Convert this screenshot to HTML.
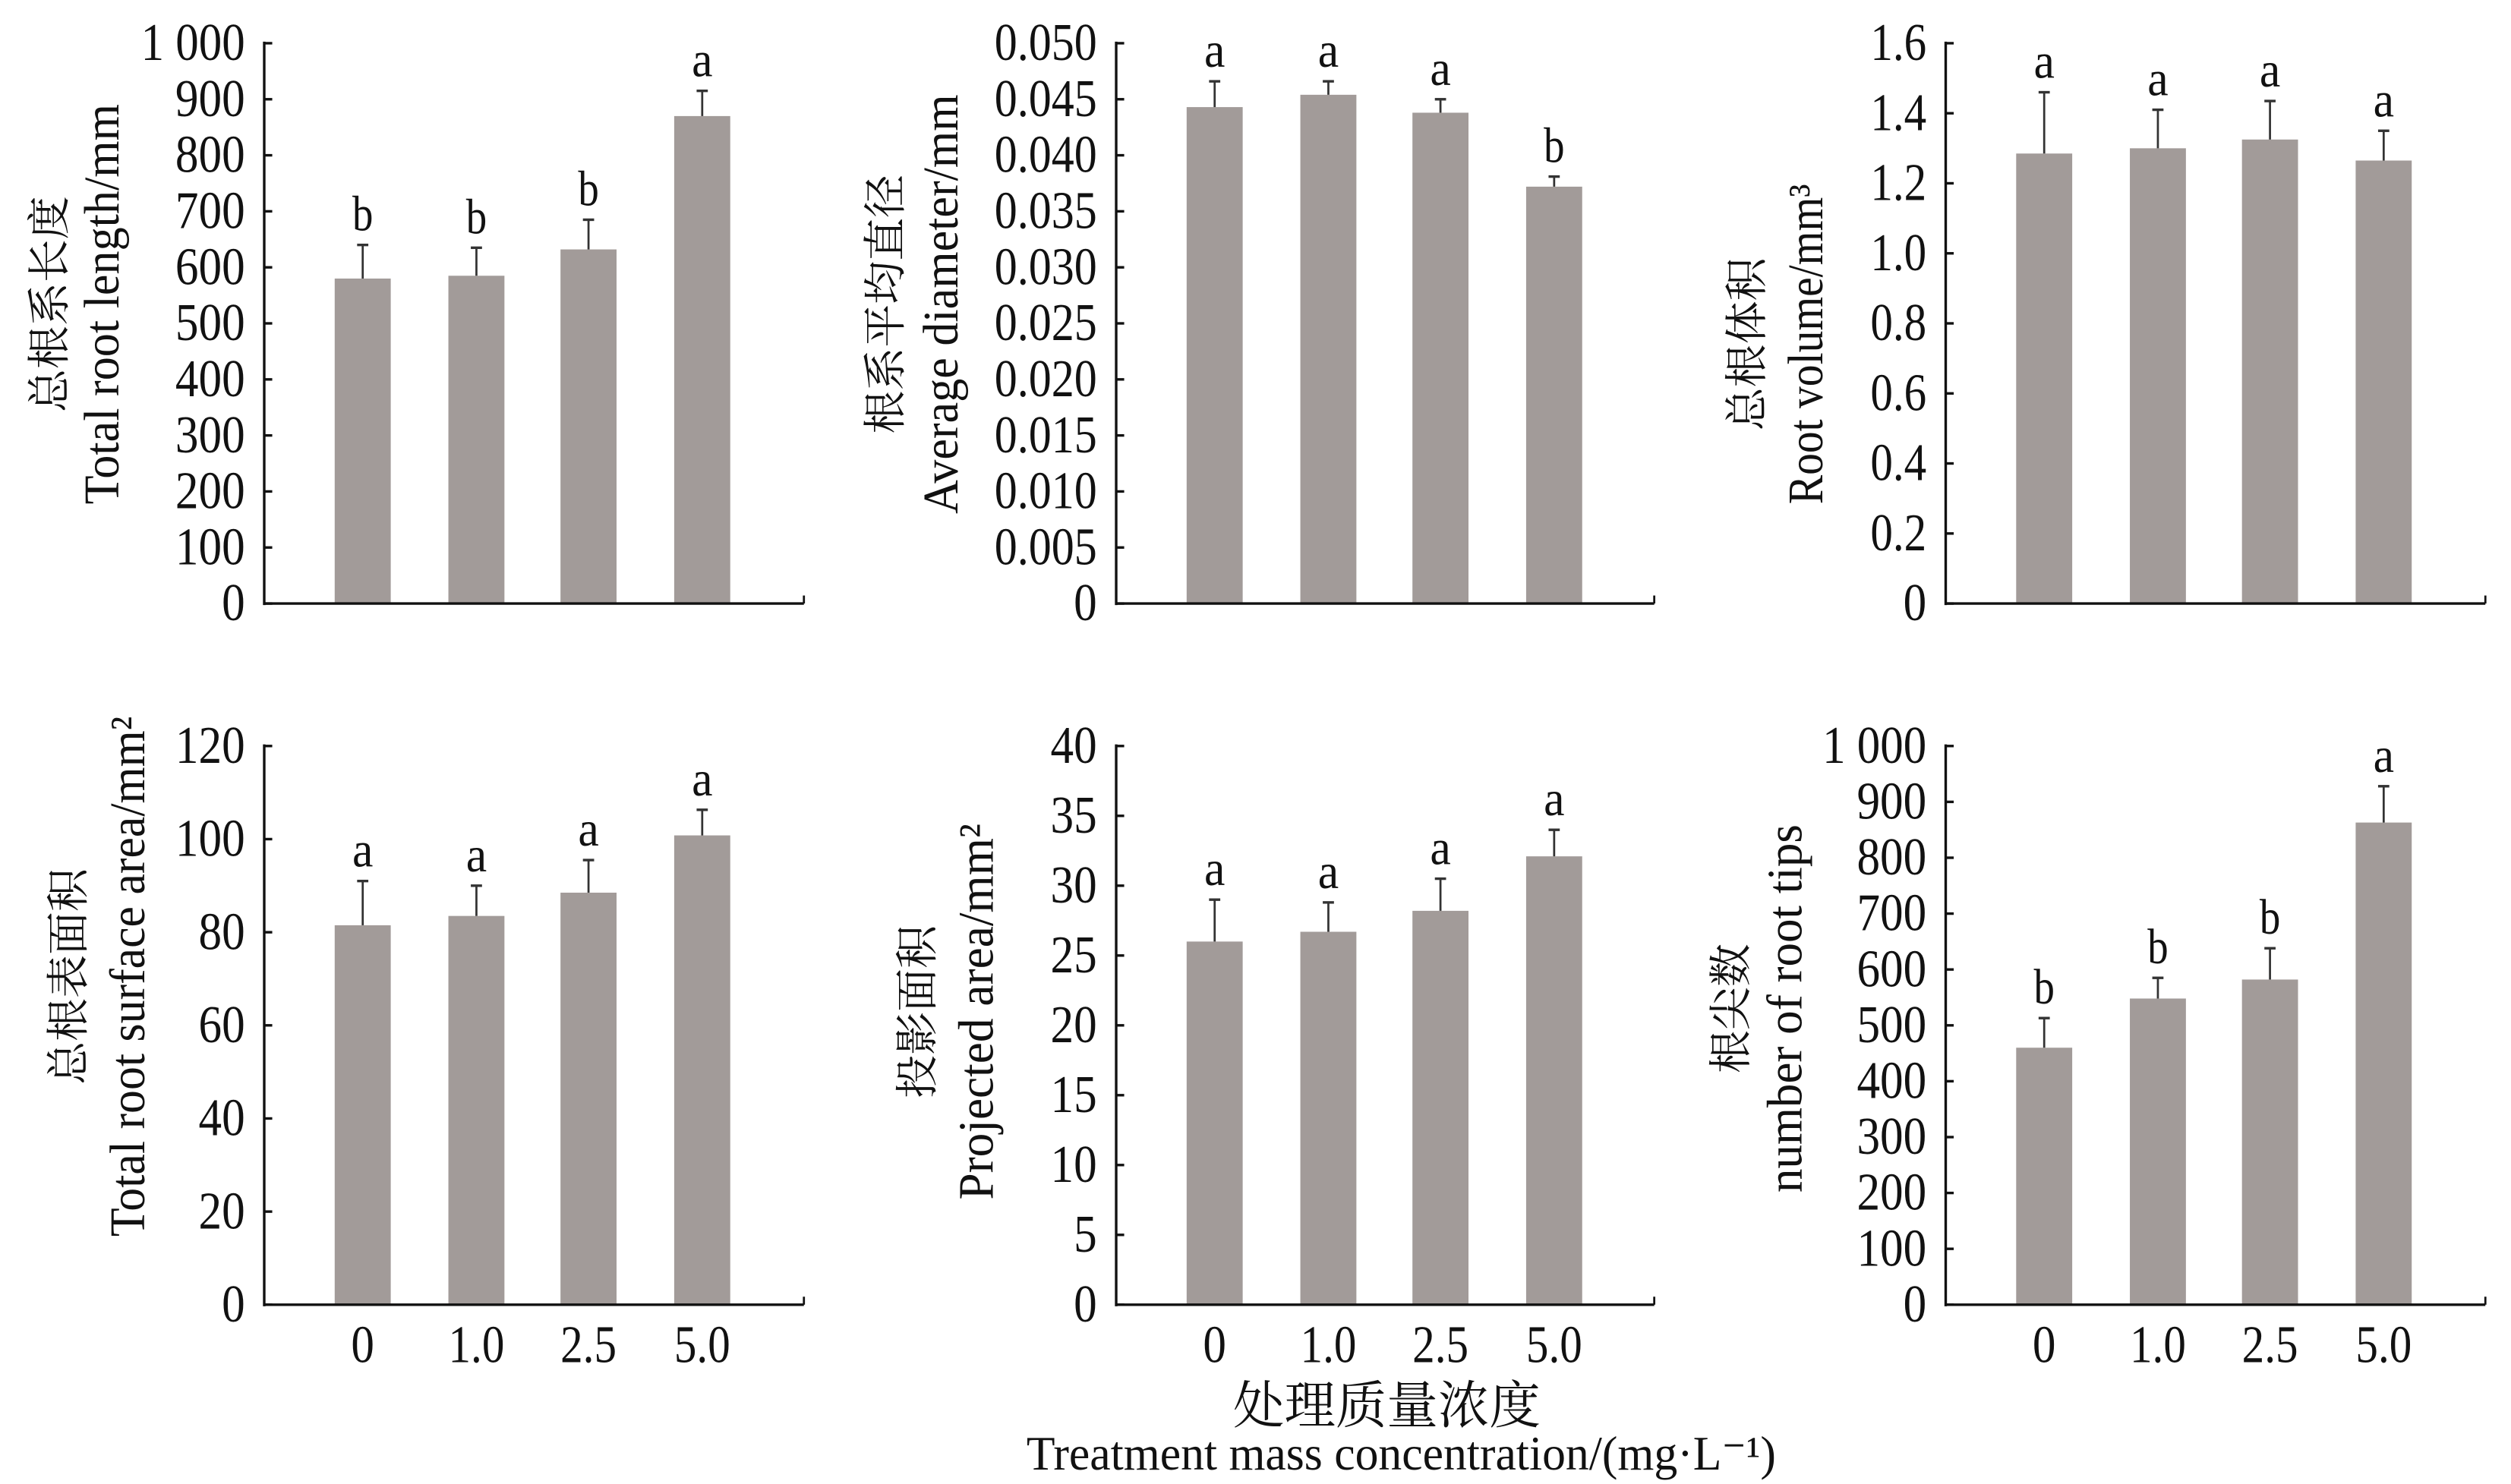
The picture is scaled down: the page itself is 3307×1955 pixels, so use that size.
<!DOCTYPE html>
<html><head><meta charset="utf-8"><style>
html,body{margin:0;padding:0;background:#fff;}
svg{display:block;}
text{font-family:"Liberation Serif","Noto Serif CJK SC","Noto Sans CJK SC",serif;fill:#111;}
</style></head><body>
<svg id="s" width="3307" height="1955" viewBox="0 0 1568 927" preserveAspectRatio="none" xmlns="http://www.w3.org/2000/svg"></svg>
<script>
var s=document.getElementById('s');var h='';
function tl(t){var w=0;for(var c of t){if(c===' ')w+=7;else if(c==='.')w+=6;else w+=14.5;}return w;}
var charts=[
{ax:165,x1:502,top:27,bot:377,max:1000,step:100,lab:function(v){return v==1000?'1 000':''+v},
 vals:[580,585,632,870],err:[640,635,685,915],sig:['b','b','b','a'],
 t1:'总根系长度',t1x:40,t2:'Total root length/mm',t2x:74,ty:190,t2len:250},
{ax:697,x1:1033,top:27,bot:377,max:0.05,step:0.005,lab:function(v){return v==0?'0':v.toFixed(3)},
 vals:[0.0443,0.0454,0.0438,0.0372],err:[0.0466,0.0466,0.0450,0.0381],sig:['a','a','a','b'],
 t1:'根系平均直径',t1x:562,t2:'Average diameter/mm',t2x:598,ty:190,t2len:262},
{ax:1215,x1:1552,top:27,bot:377,max:1.6,step:0.2,lab:function(v){return v==0?'0':v.toFixed(1)},
 vals:[1.285,1.30,1.325,1.265],err:[1.46,1.41,1.435,1.35],sig:['a','a','a','a'],
 t1:'总根体积',t1x:1100,t2:'Root volume/mm³',t2x:1138,ty:215,t2len:200},
{ax:165,x1:502,top:466,bot:815,max:120,step:20,lab:function(v){return ''+v},
 vals:[81.5,83.5,88.5,100.8],err:[91,90,95.5,106.3],sig:['a','a','a','a'],
 t1:'总根表面积',t1x:52,t2:'Total root surface area/mm²',t2x:90,ty:610,t2len:325},
{ax:697,x1:1033,top:466,bot:815,max:40,step:5,lab:function(v){return ''+v},
 vals:[26,26.7,28.2,32.1],err:[29,28.8,30.5,34],sig:['a','a','a','a'],
 t1:'投影面积',t1x:582,t2:'Projected area/mm²',t2x:620,ty:632,t2len:235},
{ax:1215,x1:1552,top:466,bot:815,max:1000,step:100,lab:function(v){return v==1000?'1 000':''+v},
 vals:[460,548,582,863],err:[513,585,638,928],sig:['b','b','b','a'],
 t1:'根尖数',t1x:1090,t2:'number of root tips',t2x:1125,ty:630,t2len:230}
];
var offs=[44,115,185,256],bw=35;
charts.forEach(function(c,ci){
 var sc=(c.bot-c.top)/c.max;
 function Y(v){return c.bot-v*sc;}
 for(var i=0;i<4;i++){
  var x=c.ax+offs[i];var y=Y(c.vals[i]);
  h+='<rect x="'+x+'" y="'+y+'" width="'+bw+'" height="'+(c.bot-y)+'" fill="#a29b99"/>';
  var cx=x+bw/2,ye=Y(c.err[i]);
  h+='<line x1="'+cx+'" y1="'+y+'" x2="'+cx+'" y2="'+ye+'" stroke="#333" stroke-width="1.3"/>';
  h+='<line x1="'+(cx-3.5)+'" y1="'+ye+'" x2="'+(cx+3.5)+'" y2="'+ye+'" stroke="#333" stroke-width="1.6"/>';
  h+='<text x="'+cx+'" y="'+(ye-9)+'" font-size="31" text-anchor="middle" textLength="13" lengthAdjust="spacingAndGlyphs">'+c.sig[i]+'</text>';
  if(ci>=3){var xl=['0','1.0','2.5','5.0'][i];h+='<text x="'+cx+'" y="851" font-size="33" text-anchor="middle" textLength="'+tl(xl)+'" lengthAdjust="spacingAndGlyphs">'+xl+'</text>';}
 }
 h+='<line x1="'+c.ax+'" y1="'+(c.top-1)+'" x2="'+c.ax+'" y2="'+(c.bot+1)+'" stroke="#111" stroke-width="1.6"/>';
 h+='<line x1="'+c.ax+'" y1="'+c.bot+'" x2="'+c.x1+'" y2="'+c.bot+'" stroke="#111" stroke-width="1.6"/>';
 h+='<line x1="'+c.x1+'" y1="'+c.bot+'" x2="'+c.x1+'" y2="'+(c.bot-5)+'" stroke="#111" stroke-width="1.3"/>';
 var n=Math.round(c.max/c.step);
 for(var k=0;k<=n;k++){
  var v=k*c.step;var y=Y(v);
  h+='<line x1="'+c.ax+'" y1="'+y+'" x2="'+(c.ax+5)+'" y2="'+y+'" stroke="#111" stroke-width="1.6"/>';
  var t=c.lab(Math.round(v*1e6)/1e6);
  h+='<text x="'+(c.ax-12)+'" y="'+(y+10.5)+'" font-size="33" text-anchor="end" textLength="'+tl(t)+'" lengthAdjust="spacingAndGlyphs">'+t+'</text>';
 }
 h+='<text transform="translate('+c.t1x+','+c.ty+') rotate(-90)" font-size="27" text-anchor="middle">'+c.t1+'</text>';
 h+='<text transform="translate('+c.t2x+','+c.ty+') rotate(-90)" font-size="31" text-anchor="middle" textLength="'+c.t2len+'" lengthAdjust="spacingAndGlyphs">'+c.t2+'</text>';
});
h+='<text x="866" y="889" font-size="32" text-anchor="middle">处理质量浓度</text>';
h+='<text x="875" y="918" font-size="30" text-anchor="middle" textLength="468" lengthAdjust="spacingAndGlyphs">Treatment mass concentration/(mg·L⁻¹)</text>';
s.innerHTML=h;
</script>
</body></html>
